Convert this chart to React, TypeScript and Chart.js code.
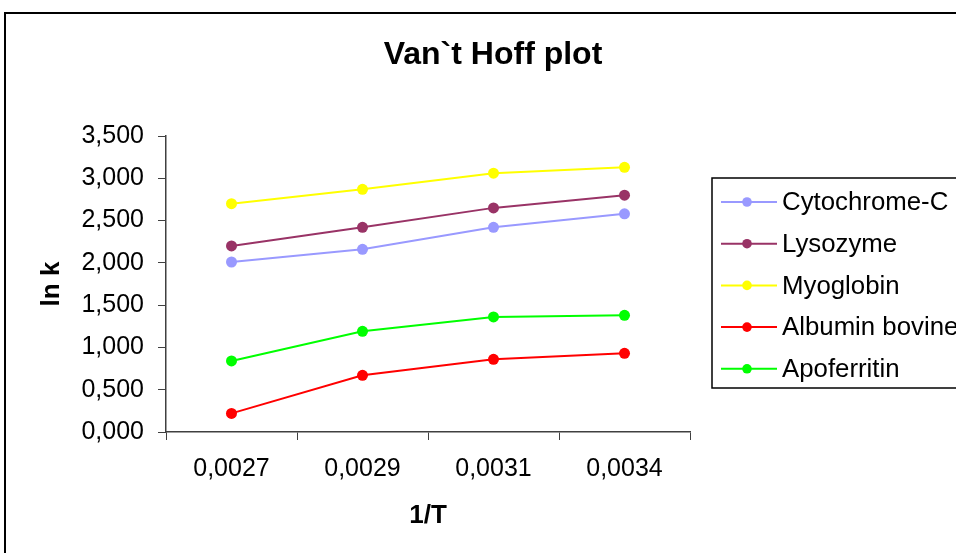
import React, { useEffect, useRef } from "react";
import { Chart, registerables } from "chart.js";

Chart.register(...registerables);

const categories = ["0,0027", "0,0029", "0,0031", "0,0034"];
const cytochromeC = [2.01, 2.16, 2.42, 2.58];
const lysozyme = [2.2, 2.42, 2.65, 2.8];
const myoglobin = [2.7, 2.87, 3.06, 3.13];
const albuminBovine = [0.22, 0.67, 0.86, 0.93];
const apoferritin = [0.84, 1.19, 1.36, 1.38];

const seriesNames = ["Cytochrome-C", "Lysozyme", "Myoglobin", "Albumin bovine", "Apoferritin"];
const seriesColors = ["#9999FF", "#993366", "#FFFF00", "#FF0000", "#00FF00"];
const seriesValues = [cytochromeC, lysozyme, myoglobin, albuminBovine, apoferritin];

const titleText = "Van`t Hoff plot";
const xTitle = "1/T";
const yTitle = "ln k";

const FONT = "'Liberation Sans', Arial, sans-serif";

const decorPlugin = {
  id: "decor",
  beforeDraw(chart: any) {
    const ctx = chart.ctx;
    ctx.save();
    ctx.fillStyle = "#ffffff";
    ctx.fillRect(0, 0, chart.width, chart.height);
    ctx.strokeStyle = "#000000";
    ctx.lineWidth = 2;
    ctx.beginPath();
    ctx.moveTo(5, chart.height + 5);
    ctx.lineTo(5, 13);
    ctx.lineTo(chart.width + 5, 13);
    ctx.stroke();
    ctx.restore();
  },
  afterDraw(chart: any) {
    const ctx = chart.ctx;
    ctx.save();
    // title
    ctx.fillStyle = "#000";
    ctx.font = `bold 32px ${FONT}`;
    ctx.textAlign = "center";
    ctx.textBaseline = "middle";
    ctx.fillText(titleText, 493, 55);

    // legend
    const lx = 712;
    const ly = 178;
    ctx.strokeStyle = "#000";
    ctx.lineWidth = 1.5;
    ctx.strokeRect(lx, ly, 280, 210);
    ctx.font = `25.8px ${FONT}`;
    ctx.textAlign = "left";
    chart.data.datasets.forEach((ds: any, i: number) => {
      const y = 202 + i * 41.7;
      ctx.strokeStyle = ds.borderColor;
      ctx.lineWidth = 2;
      ctx.beginPath();
      ctx.moveTo(721, y);
      ctx.lineTo(777, y);
      ctx.stroke();
      ctx.fillStyle = ds.backgroundColor;
      ctx.beginPath();
      ctx.arc(747, y, 4.8, 0, Math.PI * 2);
      ctx.fill();
      ctx.fillStyle = "#000";
      ctx.fillText(ds.label, 782, y + 1);
    });
    ctx.restore();
  },
};

export default function App() {
  const ref = useRef<HTMLCanvasElement | null>(null);
  useEffect(() => {
    if (!ref.current) return;
    const chart = new Chart(ref.current, {
      type: "line",
      data: {
        labels: categories,
        datasets: seriesValues.map((vals, i) => ({
          label: seriesNames[i],
          data: vals,
          borderColor: seriesColors[i],
          backgroundColor: seriesColors[i],
          pointBackgroundColor: seriesColors[i],
          pointBorderColor: seriesColors[i],
          pointRadius: 5.5,
          pointBorderWidth: 0,
          borderWidth: 2,
          tension: 0,
          fill: false,
        })),
      },
      options: {
        animation: false,
        responsive: false,
        devicePixelRatio: 1,
        layout: { padding: { top: 136, right: 266, left: 0, bottom: 0 } },
        plugins: {
          legend: { display: false },
          title: { display: false },
          tooltip: { enabled: false },
        },
        scales: {
          x: {
            type: "category",
            offset: true,
            grid: {
              offset: true,
              drawOnChartArea: false,
              drawTicks: true,
              tickLength: 8,
              color: "#404040",
              lineWidth: 1,
            },
            border: { display: true, color: "#404040", width: 1.5 },
            ticks: {
              color: "#000",
              font: { family: FONT, size: 25 },
              padding: 14,
              maxRotation: 0,
            },
            title: {
              display: true,
              text: xTitle,
              color: "#000",
              font: { family: FONT, size: 26, weight: "bold" },
              padding: { top: 0, bottom: 22 },
            },
            afterFit(scale: any) {
              scale.height = 121;
            },
          },
          y: {
            min: 0,
            max: 3.5,
            grid: {
              drawOnChartArea: false,
              drawTicks: true,
              tickLength: 8,
              color: "#404040",
              lineWidth: 1,
            },
            border: { display: true, color: "#404040", width: 1.5 },
            ticks: {
              stepSize: 0.5,
              color: "#000",
              font: { family: FONT, size: 25 },
              padding: 14,
              callback: (v: any) => Number(v).toFixed(3).replace(".", ","),
            },
            title: {
              display: true,
              text: yTitle,
              color: "#000",
              font: { family: FONT, size: 26, weight: "bold" },
              padding: { top: 36, bottom: 0 },
            },
            afterFit(scale: any) {
              scale.width = 166;
            },
          },
        },
      },
      plugins: [decorPlugin],
    });
    return () => chart.destroy();
  }, []);
  return (
    <div style={{ position: "fixed", left: 0, top: 0, width: 956, height: 553 }}>
      <canvas ref={ref} width={956} height={553} style={{ display: "block" }} />
    </div>
  );
}
